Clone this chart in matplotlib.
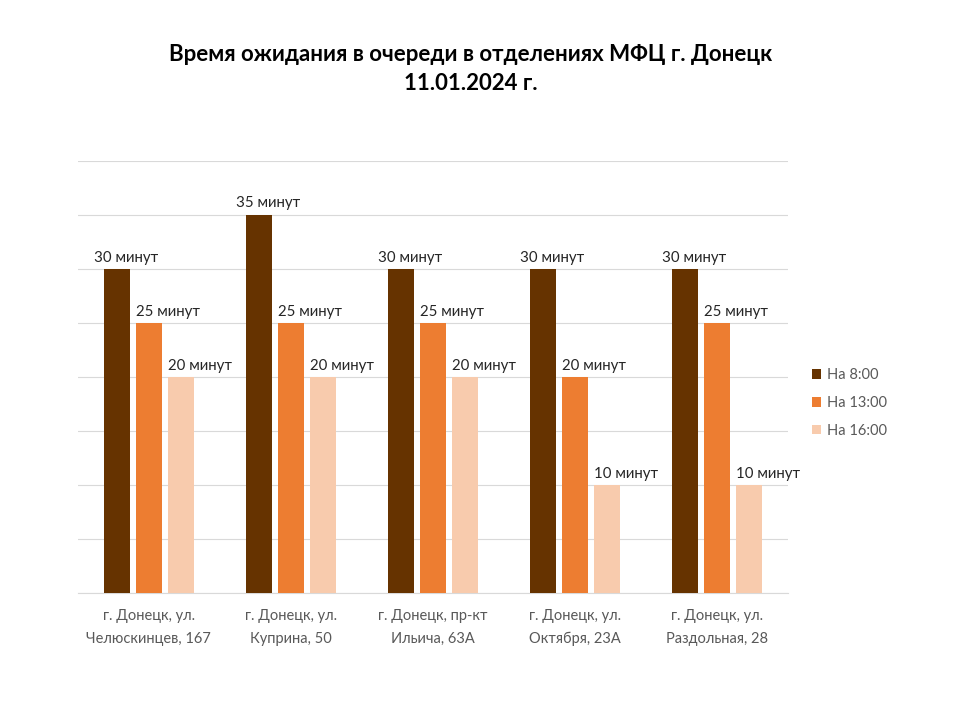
import matplotlib.pyplot as plt
import numpy as np

plt.rcParams['font.family'] = ['Lato', 'DejaVu Sans']

offices = ["г. Донецк, ул.\nЧелюскинцев, 167", "г. Донецк, ул.\nКуприна, 50",
           "г. Донецк, пр-кт\nИльича, 63А", "г. Донецк, ул.\nОктября, 23А",
           "г. Донецк, ул.\nРаздольная, 28"]
series_names = ["На 8:00", "На 13:00", "На 16:00"]
at_8 = [30, 35, 30, 30, 30]
at_13 = [25, 25, 25, 20, 25]
at_16 = [20, 20, 20, 10, 10]
colors = ["#663300", "#ED7D31", "#F8CBAD"]
label_shift = [-7, 0, 0]  # points, labels sit left-aligned near each bar

fig = plt.figure(figsize=(9.6, 7.2), dpi=100)
ax = fig.add_axes([0.081, 0.176, 0.74, 0.601])

x = np.arange(len(offices))
width = 0.183
step = 0.225
for i, (vals, name) in enumerate(zip([at_8, at_13, at_16], series_names)):
    pos = x + (i - 1) * step
    bars = ax.bar(pos, vals, width, color=colors[i], label=name, zorder=3)
    for b, v in zip(bars, vals):
        ax.annotate(f"{v} минут", (b.get_x(), v), xytext=(label_shift[i], 3),
                    textcoords='offset points', ha='left', va='bottom',
                    fontsize=10.8, color='#262626', zorder=5)

ax.set_xlim(-0.5, len(offices) - 0.5)
ax.set_ylim(0, 40)
ax.set_yticks(np.arange(0, 41, 5))
ax.yaxis.grid(True, color='#D9D9D9', linewidth=0.8, zorder=0)
ax.tick_params(axis='y', left=False, labelleft=False)
ax.tick_params(axis='x', bottom=False, labelsize=10.5, labelcolor='#595959', pad=8)
ax.set_xticks(x)
ax.set_xticklabels(offices, linespacing=1.75)
for s in ['top', 'right', 'left']:
    ax.spines[s].set_visible(False)
ax.spines['bottom'].set_color('#D9D9D9')

fig.text(0.49, 0.904, "Время ожидания в очереди в отделениях МФЦ г. Донецк\n11.01.2024 г.",
         ha='center', va='center', fontsize=16, fontweight='bold', linespacing=1.5)

ax.legend(loc='center left', bbox_to_anchor=(1.015, 0.44), frameon=False,
          fontsize=10.5, labelcolor='#595959', handlelength=0.65, handleheight=0.65,
          labelspacing=0.95, handletextpad=0.35)

fig.savefig("out.png", dpi=100)
